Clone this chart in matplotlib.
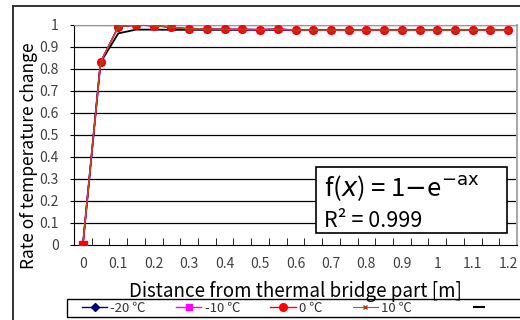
import matplotlib
matplotlib.use("Agg")
import matplotlib.pyplot as plt
from matplotlib.lines import Line2D
from matplotlib.patches import Rectangle

plt.rcParams['font.family'] = ['Noto Sans CJK KR', 'DejaVu Sans']
plt.rcParams['mathtext.fontset'] = 'dejavusans'

# ---- data ----
distance = [0.00, 0.05, 0.10, 0.15, 0.20, 0.25, 0.30, 0.35, 0.40, 0.45, 0.50, 0.55,
            0.60, 0.65, 0.70, 0.75, 0.80, 0.85, 0.90, 0.95, 1.00, 1.05, 1.10, 1.15, 1.20]
t_m20 = [0.0, 0.832, 0.992, 1.000, 0.997, 0.990, 0.982, 0.982, 0.980, 0.980, 0.979, 0.981,
         0.977, 0.977, 0.977, 0.977, 0.977, 0.977, 0.977, 0.977, 0.977, 0.977, 0.977, 0.977, 0.977]
t_m10 = [0.0, 0.832, 0.992, 1.000, 0.997, 0.990, 0.982, 0.982, 0.980, 0.980, 0.979, 0.981,
         0.977, 0.977, 0.977, 0.977, 0.977, 0.977, 0.977, 0.977, 0.977, 0.977, 0.977, 0.977, 0.977]
t_0 = [0.0, 0.832, 0.992, 1.000, 0.997, 0.990, 0.982, 0.982, 0.980, 0.980, 0.979, 0.981,
       0.977, 0.977, 0.977, 0.977, 0.977, 0.977, 0.977, 0.977, 0.977, 0.977, 0.977, 0.977, 0.977]
t_p10 = [0.0, 0.832, 0.992, 1.000, 0.997, 0.990, 0.982, 0.982, 0.980, 0.980, 0.979, 0.981,
         0.977, 0.977, 0.977, 0.977, 0.977, 0.977, 0.977, 0.977, 0.977, 0.977, 0.977, 0.977, 0.977]
fit = [0.0, 0.830, 0.962, 0.979, 0.979, 0.978, 0.978, 0.978, 0.978, 0.978, 0.978, 0.978,
       0.978, 0.978, 0.978, 0.978, 0.978, 0.978, 0.978, 0.978, 0.978, 0.978, 0.978, 0.978, 0.978]
series_labels = ['-20 ℃', '-10 ℃', '0 ℃', '10 ℃']
x_ticks = [0, 0.1, 0.2, 0.3, 0.4, 0.5, 0.6, 0.7, 0.8, 0.9, 1.0, 1.1, 1.2]
x_tick_labels = ['0', '0.1', '0.2', '0.3', '0.4', '0.5', '0.6', '0.7', '0.8', '0.9', '1', '1.1', '1.2']
y_ticks = [0, 0.1, 0.2, 0.3, 0.4, 0.5, 0.6, 0.7, 0.8, 0.9, 1.0]
y_tick_labels = ['0', '0.1', '0.2', '0.3', '0.4', '0.5', '0.6', '0.7', '0.8', '0.9', '1']

W, H = 520, 320
fig = plt.figure(figsize=(5.2, 3.2), dpi=100)

# outer frame
fig.patches.append(Rectangle((13 / W, -0.2), 1.2, (320 - 6) / H + 0.2,
                             transform=fig.transFigure, fill=False,
                             edgecolor='#222222', lw=1.3))

ax = fig.add_axes([74 / W, (H - 245) / H, 443 / W, 220 / H])
ax.set_xlim(-0.025, 1.225)
ax.set_ylim(0, 1)

for yv in y_ticks[1:]:
    ax.axhline(yv, color='black', lw=0.9, zorder=1)

tc = '#404040'
fs = 10
ax.plot(distance, fit, color='black', lw=1.3, zorder=2)
h1, = ax.plot(distance, t_m20, color='#000080', marker='D', ms=4.5, lw=1, zorder=3)
h2, = ax.plot(distance, t_m10, color='#ff00ff', marker='s', ms=4.5, lw=1, zorder=4)
h3, = ax.plot(distance, t_0, color='#ff0000', marker='o', ms=5.5, lw=1, zorder=5,
              markeredgecolor='#ff0000')
h4, = ax.plot(distance, t_p10, color='#b05a2a', marker='x', ms=3.5, mew=1, lw=0.8, zorder=6,
              markeredgecolor='#a0401a')
ax.plot(distance[:1], t_0[:1], color='#ff0000', marker='s', ms=5.5, zorder=7, ls='none')

ax.spines['left'].set_color('black')
ax.spines['bottom'].set_color('black')
ax.spines['top'].set_color('#999999')
ax.spines['right'].set_color('#aaaaaa')
ax.spines['right'].set_linewidth(1.5)

ax.set_yticks(y_ticks)
ax.set_yticklabels(y_tick_labels, color=tc, fontsize=fs)
ax.set_xticks(x_ticks)
ax.set_xticklabels(x_tick_labels, color=tc, fontsize=fs)
ax.tick_params(axis='x', length=0, pad=9)
ax.tick_params(axis='y', direction='out', length=3, pad=8, color='black')
ax.set_xticks([-0.025 + 0.05 * i for i in range(26)], minor=True)
ax.tick_params(axis='x', which='minor', direction='in', length=5, color='black')

ax.set_xlabel('Distance from thermal bridge part [m]', fontsize=13.5, color='black', labelpad=7)
ax.set_ylabel('Rate of temperature change', fontsize=12.5, color='black')
ax.yaxis.set_label_coords(-0.082, 0.405)

# equation box
fig.patches.append(Rectangle((316 / W, (H - 233) / H), 191 / W, 66 / H,
                             transform=fig.transFigure, fill=True, facecolor='white',
                             edgecolor='black', lw=1.2, zorder=10))
fig.text(324 / W, (H - 196) / H, r'f($x$) = 1$-$e$^{\mathrm{-ax}}$', fontsize=18.5,
         color='black', zorder=11)
fig.text(324 / W, (H - 227) / H, 'R² = 0.999', fontsize=15.5, color='black', zorder=11)

# legend
fig.patches.append(Rectangle((67 / W, (H - 317) / H), 1.0, 18 / H,
                             transform=fig.transFigure, fill=False,
                             edgecolor='black', lw=1.0))
proxy_fit = Line2D([], [], color='black', marker='_', ls='none', ms=9, mew=1.5)
leg = fig.legend([h1, h2, h3, h4, proxy_fit],
                 series_labels[:3] + [series_labels[3] + '        ', ''],
                 loc='center left', bbox_to_anchor=(82 / W, (H - 308) / H),
                 ncol=5, frameon=False, fontsize=9.5, handlelength=1.9,
                 handletextpad=0.25, columnspacing=2.3, borderaxespad=0, borderpad=0)
for t in leg.get_texts():
    t.set_color('#333333')

fig.savefig('out.png', dpi=100)
